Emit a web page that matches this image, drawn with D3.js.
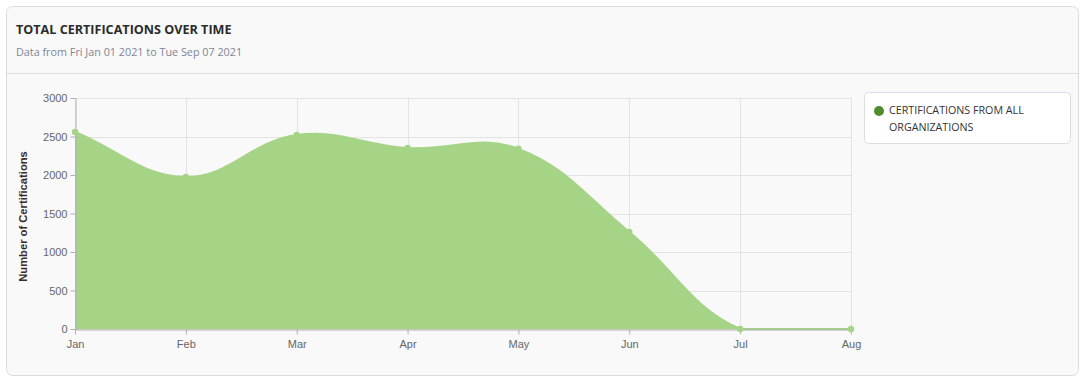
<!DOCTYPE html>
<html><head><meta charset="utf-8">
<script src="https://cdn.jsdelivr.net/npm/d3@7"></script>
<style>
html,body{margin:0;padding:0;background:#fff;}
svg{display:block;}
</style></head>
<body>
<svg id="c" width="1086" height="382"></svg>
<script>
const months = ["Jan","Feb","Mar","Apr","May","Jun","Jul","Aug"];
const values = [2560, 1975, 2520, 2350, 2340, 1260, 0, 0];
const yTicks = [0, 500, 1000, 1500, 2000, 2500, 3000];
const seriesName = "CERTIFICATIONS FROM ALL ORGANIZATIONS";
const title = "TOTAL CERTIFICATIONS OVER TIME";
const subtitle = "Data from Fri Jan 01 2021 to Tue Sep 07 2021";

const svg = d3.select("#c");
const plot = {left: 75, right: 851, top: 98, bottom: 329};

// panel
svg.append("rect").attr("x",6.5).attr("y",6.5).attr("width",1072).attr("height",369)
  .attr("rx",6).attr("fill","#f9f9f9").attr("stroke","#dcdcdc");
svg.append("line").attr("x1",7).attr("x2",1078).attr("y1",73.5).attr("y2",73.5).attr("stroke","#dddde2");
svg.append("text").attr("x",16).attr("y",34).text(title)
  .attr("font-family","'Open Sans'").attr("font-weight","bold").attr("font-size",12.6).attr("fill","#2b2b2b");
svg.append("text").attr("x",16).attr("y",56).text(subtitle)
  .attr("font-family","'Open Sans'").attr("font-size",10.8).attr("fill","#7d8596");

const x = d3.scalePoint().domain(months).range([plot.left, plot.right]);
const y = d3.scaleLinear().domain([0,3000]).range([plot.bottom, plot.top]);

// grid
const g = svg.append("g");
g.selectAll(".hg").data(yTicks).join("line")
  .attr("x1",plot.left).attr("x2",plot.right)
  .attr("y1",d=>Math.round(y(d))+0.5).attr("y2",d=>Math.round(y(d))+0.5)
  .attr("stroke","#e3e3e3");
g.selectAll(".vg").data(months).join("line")
  .attr("x1",d=>Math.round(x(d))+0.5).attr("x2",d=>Math.round(x(d))+0.5)
  .attr("y1",plot.top).attr("y2",plot.bottom)
  .attr("stroke","#e3e3e3");

// Chart.js style spline curve with capped control points
function ChartJsCurve(context){ this._context = context; }
ChartJsCurve.prototype = {
  areaStart(){ this._line = 0; },
  areaEnd(){ this._line = NaN; },
  lineStart(){ this._pts = []; },
  point(px,py){ this._pts.push([+px,+py]); },
  lineEnd(){
    const p = this._pts, n = p.length, ctx = this._context, t = 0.4;
    if (n) {
      const cp = p.map((cur,i)=>{
        const prev = p[i-1] || cur, next = p[i+1] || cur;
        const d01 = Math.hypot(cur[0]-prev[0],cur[1]-prev[1]);
        const d12 = Math.hypot(next[0]-cur[0],next[1]-cur[1]);
        let s01 = d01/(d01+d12), s12 = d12/(d01+d12);
        if (isNaN(s01)) s01 = 0; if (isNaN(s12)) s12 = 0;
        const fa = t*s01, fb = t*s12;
        const cap = (q)=>[Math.max(plot.left,Math.min(plot.right,q[0])), Math.max(plot.top,Math.min(plot.bottom,q[1]))];
        return {
          prev: cap([cur[0]-fa*(next[0]-prev[0]), cur[1]-fa*(next[1]-prev[1])]),
          next: cap([cur[0]+fb*(next[0]-prev[0]), cur[1]+fb*(next[1]-prev[1])])
        };
      });
      if (this._line) ctx.lineTo(p[0][0],p[0][1]); else ctx.moveTo(p[0][0],p[0][1]);
      for (let i=1;i<n;i++){
        ctx.bezierCurveTo(cp[i-1].next[0],cp[i-1].next[1],cp[i].prev[0],cp[i].prev[1],p[i][0],p[i][1]);
      }
    }
    if (this._line || (this._line !== 0 && n === 1)) ctx.closePath();
    this._line = 1 - this._line;
  }
};
const curve = ctx => new ChartJsCurve(ctx);

const data = months.map((m,i)=>({m, v: values[i]}));
const green = "#a5d487";
svg.append("path").datum(data)
  .attr("d", d3.area().x(d=>x(d.m)).y0(y(0)).y1(d=>y(d.v)).curve(curve))
  .attr("fill", green);
svg.append("path").datum(data)
  .attr("d", d3.line().x(d=>x(d.m)).y(d=>y(d.v)).curve(curve))
  .attr("fill","none").attr("stroke", green).attr("stroke-width",2);

// axes
const yAxis = svg.append("g").attr("transform",`translate(${plot.left+0.5},0)`)
  .call(d3.axisLeft(y).tickValues(yTicks).tickFormat(d3.format("d")).tickSize(5).tickPadding(3).tickSizeOuter(0));
const xAxis = svg.append("g").attr("transform",`translate(0,${plot.bottom+0.5})`)
  .call(d3.axisBottom(x).tickSize(5).tickPadding(6).tickSizeOuter(0));
[yAxis,xAxis].forEach(a=>{
  a.select(".domain").attr("stroke","#b0b0b0");
  a.selectAll(".tick line").attr("stroke","#b0b0b0");
  a.selectAll(".tick text").attr("fill","#666").attr("font-family","'Liberation Sans', Arial, sans-serif").attr("font-size",11);
});

// points
svg.selectAll(".pt").data(data).join("circle")
  .attr("cx",d=>x(d.m)).attr("cy",d=>y(d.v)).attr("r",3.2).attr("fill",green);

// y axis label
svg.append("text").attr("transform",`translate(27,${(plot.top+plot.bottom)/2+3}) rotate(-90)`)
  .attr("text-anchor","middle").text("Number of Certifications")
  .attr("font-family","'Liberation Sans', Arial, sans-serif").attr("font-weight","bold").attr("font-size",11.2).attr("fill","#3a2a2a");

// legend
const lg = svg.append("g");
lg.append("rect").attr("x",864.5).attr("y",92.5).attr("width",206).attr("height",51).attr("rx",4)
  .attr("fill","#fff").attr("stroke","#dcdce6");
lg.append("circle").attr("cx",879).attr("cy",111).attr("r",5).attr("fill","#4f8c2c");
const lt = lg.append("text").attr("font-family","'Open Sans'").attr("font-size",10.7).attr("fill","#333");
lt.append("tspan").attr("x",889).attr("y",114).text("CERTIFICATIONS FROM ALL");
lt.append("tspan").attr("x",889).attr("y",131).text("ORGANIZATIONS");
</script>
</body></html>
